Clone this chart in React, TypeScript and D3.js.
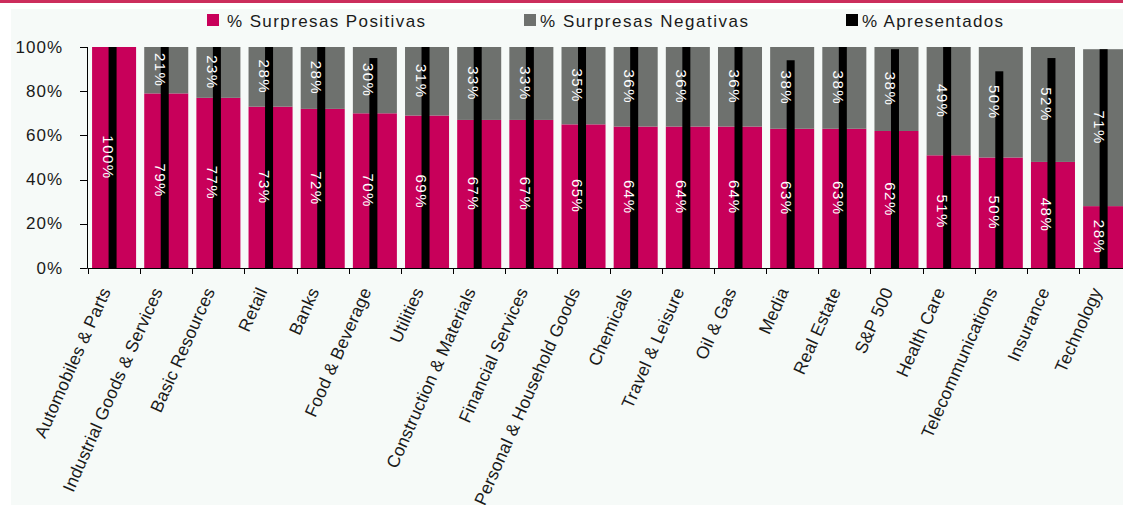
import React from "react";
import * as d3 from "d3";

const categories = [
  "Automobiles & Parts",
  "Industrial Goods & Services",
  "Basic Resources",
  "Retail",
  "Banks",
  "Food & Beverage",
  "Utilities",
  "Construction & Materials",
  "Financial Services",
  "Personal & Household Goods",
  "Chemicals",
  "Travel & Leisure",
  "Oil & Gas",
  "Media",
  "Real Estate",
  "S&P 500",
  "Health Care",
  "Telecommunications",
  "Insurance",
  "Technology",
];
const positive = [100, 79, 77, 73, 72, 70, 69, 67, 67, 65, 64, 64, 64, 63, 63, 62, 51, 50, 48, 28];
const negative = [0, 21, 23, 28, 28, 30, 31, 33, 33, 35, 36, 36, 36, 38, 38, 38, 49, 50, 52, 71];
const presented = [100, 100, 100, 100, 100, 95, 100, 100, 100, 100, 100, 100, 100, 94, 100, 99, 100, 89, 95, 99];
const yTicks = [0, 20, 40, 60, 80, 100];
const seriesNames = ["% Surpresas Positivas", "% Surpresas Negativas", "% Apresentados"];

const W = 1123;
const H = 505;
const PINK = "#c8005a";
const GRAY = "#6e716e";
const BLACK = "#000000";
const FONT = "'Liberation Sans', Arial, sans-serif";

export default function App() {
  const rows = categories.map((c, i) => ({ category: c, pos: positive[i], neg: negative[i], pres: presented[i] }));
  const stack = d3.stack<any>().keys(["pos", "neg"]);
  const series = stack(rows);

  const x = d3
    .scaleBand<string>()
    .domain(categories)
    .range([88, 1131.2])
    .paddingInner(0.156)
    .paddingOuter(0.078);
  const y = d3.scaleLinear().domain([0, 100]).range([268, 47]).clamp(true);
  const step = x.step();
  const bw = x.bandwidth();
  const blackW = 8;
  const colors = [PINK, GRAY];

  const legendX = [207, 524, 846];
  const legendTextX = [227, 540, 862];
  const legendLen = [198, 208, 141];
  const legendColors = [PINK, GRAY, BLACK];

  return (
    <svg
      width={W}
      height={H}
      style={{ position: "absolute", left: 0, top: 0, display: "block" }}
      fontFamily={FONT}
    >
      <rect x={0} y={0} width={W} height={H} fill="#ffffff" />
      <rect x={0} y={0} width={W} height={3} fill="#cc2d5c" />
      <rect x={11} y={9} width={W - 11} height={H - 9} fill="#f6faf8" />

      {/* legend */}
      {seriesNames.map((name, i) => (
        <g key={name}>
          <rect x={legendX[i]} y={14} width={12} height={12} fill={legendColors[i]} />
          <text
            x={legendTextX[i]}
            y={27}
            fontSize={17}
            fill="#1a1a1a"
            textLength={legendLen[i]}
            lengthAdjust="spacing"
          >
            {name}
          </text>
        </g>
      ))}

      {/* stacked bars */}
      {series.map((s, si) => (
        <g key={s.key} fill={colors[si]}>
          {s.map((d: any) => {
            const cat = d.data.category;
            const y0 = y(d[0]);
            const y1 = y(d[1]);
            if (y0 - y1 <= 0) return null;
            return <rect key={cat} x={x(cat)} y={y1} width={bw} height={y0 - y1} />;
          })}
        </g>
      ))}

      {/* presented bars */}
      <g fill={BLACK}>
        {rows.map((r) => (
          <rect
            key={r.category}
            x={(x(r.category) as number) + bw / 2 - blackW / 2 - 1.5}
            y={y(r.pres)}
            width={blackW}
            height={y(0) - y(r.pres)}
          />
        ))}
      </g>

      {/* value labels */}
      {series.map((s, si) => (
        <g key={"lab" + s.key} fill="#ffffff" fontSize={15} letterSpacing={1.5}>
          {s.map((d: any) => {
            const cat = d.data.category;
            const v = d[1] - d[0];
            if (v <= 0) return null;
            const cy = (y(d[0]) + y(d[1])) / 2;
            const cx = (x(cat) as number) + bw / 2 - 6;
            return (
              <text
                key={cat}
                transform={`translate(${cx},${cy}) rotate(90)`}
                textAnchor="middle"
                dominantBaseline="central"
              >
                {v + "%"}
              </text>
            );
          })}
        </g>
      ))}

      {/* y axis */}
      <line x1={87.5} x2={87.5} y1={y(100)} y2={y(0)} stroke="#000" />
      {yTicks.map((t) => (
        <g key={t}>
          <line x1={80} x2={87.5} y1={Math.round(y(t)) + 0.5} y2={Math.round(y(t)) + 0.5} stroke="#000" />
          <text
            x={63}
            y={y(t)}
            textAnchor="end"
            dominantBaseline="central"
            fontSize={17}
            letterSpacing={1}
            fill="#1a1a1a"
          >
            {t + "%"}
          </text>
        </g>
      ))}

      {/* x axis */}
      <line x1={87.5} x2={W} y1={268.5} y2={268.5} stroke="#000" />
      {d3.range(categories.length + 1).map((i) => {
        const tx = Math.round(88 + i * step) + 0.5;
        return <line key={i} x1={tx} x2={tx} y1={268.5} y2={274} stroke="#000" />;
      })}
      {categories.map((c) => {
        const cx = (x(c) as number) + bw / 2 - 3;
        return (
          <text
            key={c}
            transform={`translate(${cx},291) rotate(-66)`}
            textAnchor="end"
            fontSize={17.5}
            letterSpacing={0.2}
            fill="#1a1a1a"
          >
            {c}
          </text>
        );
      })}
    </svg>
  );
}
